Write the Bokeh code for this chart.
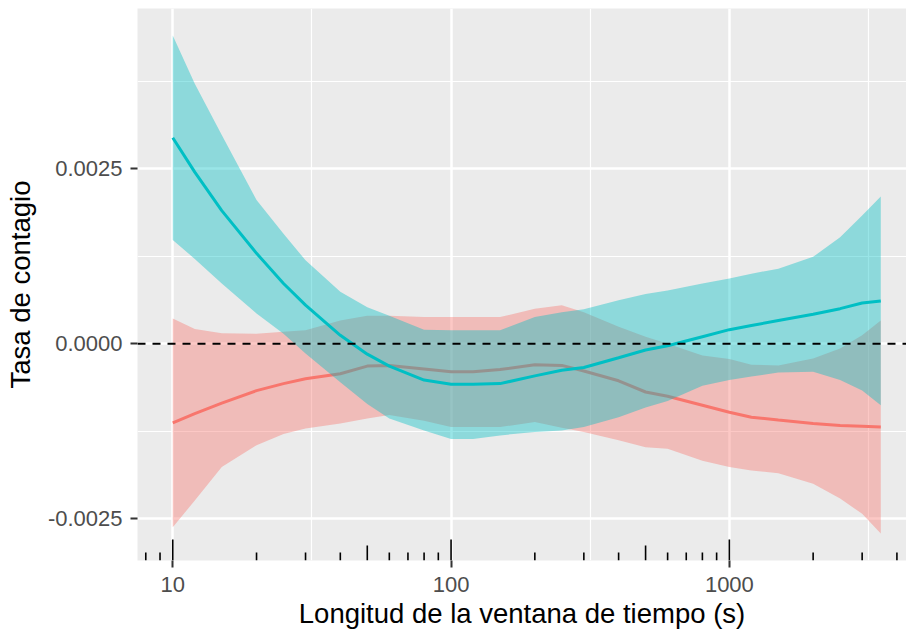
from bokeh.plotting import figure
from bokeh.models import (Range1d, FixedTicker, PrintfTickFormatter, Span,
                          ColumnDataSource)
from bokeh.embed import file_html
from bokeh.resources import INLINE

# Window length (s), log-spaced evaluation points of the smoothers
window_s = [10, 12, 15, 20, 25, 30, 40, 50, 60, 80, 100, 120, 150, 200, 250,
            300, 400, 500, 600, 800, 1000, 1200, 1500, 2000, 2500, 3000, 3500]

# Group 1 (red): fitted contagion rate and 95% band
red_fit = [-0.00113, -0.00100, -0.00085, -0.00067, -0.00057, -0.00050,
           -0.00043, -0.00032, -0.00031, -0.00036, -0.00040, -0.00040,
           -0.00037, -0.00030, -0.00031, -0.00039, -0.00053, -0.00069,
           -0.00075, -0.00088, -0.00098, -0.00105, -0.00109, -0.00114,
           -0.00117, -0.00118, -0.00119]
red_hi = [0.00036, 0.00021, 0.00015, 0.00014, 0.00017, 0.00019, 0.00033,
          0.00040, 0.00040, 0.00038, 0.00038, 0.00038, 0.00038, 0.00050,
          0.00055, 0.00045, 0.00024, 0.00010, 0.00000, -0.00017, -0.00022,
          -0.00030, -0.00031, -0.00021, -0.00007, 0.00012, 0.00033]
red_lo = [-0.00262, -0.00224, -0.00176, -0.00145, -0.00129, -0.00121,
          -0.00114, -0.00107, -0.00102, -0.00110, -0.00119, -0.00119,
          -0.00119, -0.00112, -0.00120, -0.00126, -0.00138, -0.00148,
          -0.00150, -0.00167, -0.00176, -0.00181, -0.00185, -0.00200,
          -0.00221, -0.00243, -0.00271]

# Group 2 (cyan): fitted contagion rate and 95% band
cyan_fit = [0.00294, 0.00245, 0.00190, 0.00129, 0.00086, 0.00055, 0.00012,
            -0.00015, -0.00032, -0.00052, -0.00058, -0.00058, -0.00057,
            -0.00046, -0.00038, -0.00034, -0.00020, -0.00009, -0.00003,
            0.00010, 0.00020, 0.00026, 0.00033, 0.00042, 0.00050, 0.00058,
            0.00061]
cyan_hi = [0.00440, 0.00371, 0.00298, 0.00205, 0.00157, 0.00119, 0.00074,
           0.00052, 0.00040, 0.00020, 0.00019, 0.00019, 0.00019, 0.00038,
           0.00045, 0.00049, 0.00062, 0.00071, 0.00076, 0.00086, 0.00093,
           0.00100, 0.00107, 0.00124, 0.00152, 0.00183, 0.00210]
cyan_lo = [0.00148, 0.00121, 0.00086, 0.00043, 0.00014, -0.00014, -0.00055,
           -0.00086, -0.00107, -0.00124, -0.00136, -0.00136, -0.00131,
           -0.00126, -0.00124, -0.00119, -0.00105, -0.00091, -0.00082,
           -0.00060, -0.00052, -0.00047, -0.00041, -0.00040, -0.00052,
           -0.00067, -0.00088]

# Axis ticks
x_ticks = [10, 100, 1000]
x_minor = [31.62, 316.2, 3162]
y_ticks = [-0.0025, 0.0, 0.0025]
y_minor = [-0.00125, 0.00125, 0.00375]
zero_line = 0.0

# Log-tick rug along the bottom of the panel
logtick_pos = [8, 9, 10, 20, 30, 40, 50, 60, 70, 80, 90, 100, 200, 300, 400,
               500, 600, 700, 800, 900, 1000, 2000, 3000, 4000]

RED = "#F8766D"
CYAN = "#00BFC4"
FONT = "Liberation Sans"

p = figure(width=906, height=634, x_axis_type="log",
           x_range=Range1d(7.47, 4330), y_range=Range1d(-0.003096, 0.004786),
           output_backend="svg", toolbar_location=None,
           min_border_left=137, min_border_right=0, min_border_top=8,
           min_border_bottom=74)
p.background_fill_color = "#EBEBEB"
p.border_fill_color = "white"
p.outline_line_color = None

p.extra_y_ranges = {"px": Range1d(0, 552)}

src = ColumnDataSource(dict(x=window_s, rf=red_fit, rh=red_hi, rl=red_lo,
                            cf=cyan_fit, ch=cyan_hi, cl=cyan_lo))

p.varea(x="x", y1="rl", y2="rh", source=src, fill_color=RED, fill_alpha=0.4)
p.line(x="x", y="rf", source=src, line_color=RED, line_width=3)
p.varea(x="x", y1="cl", y2="ch", source=src, fill_color=CYAN, fill_alpha=0.4)
p.line(x="x", y="cf", source=src, line_color=CYAN, line_width=3)

p.add_layout(Span(location=zero_line, dimension="width", line_color="black",
                  line_dash="8 7", line_width=2))

# rug tick lengths in pixels: long at decades, mid at 5x, short otherwise
def tick_len(v):
    lead = v / (10 ** (len(str(int(v))) - 1))
    if lead == 1:
        return 21
    if lead == 5:
        return 15
    return 8

p.segment(x0=logtick_pos, y0=[0] * len(logtick_pos), x1=logtick_pos,
          y1=[tick_len(v) for v in logtick_pos], y_range_name="px",
          line_color="black", line_width=1.6)

p.xaxis.ticker = FixedTicker(ticks=x_ticks, minor_ticks=x_minor)
p.yaxis.ticker = FixedTicker(ticks=y_ticks, minor_ticks=y_minor)
p.xaxis.formatter = PrintfTickFormatter(format="%d")
p.yaxis.formatter = PrintfTickFormatter(format="%.4f")

for ax in (p.xaxis[0], p.yaxis[0]):
    ax.axis_line_color = None
    ax.minor_tick_line_color = None
    ax.major_tick_line_color = "#333333"
    ax.major_tick_line_width = 2
    ax.major_tick_out = 7
    ax.major_tick_in = 0
    ax.major_label_text_font = FONT
    ax.major_label_text_font_size = "22px"
    ax.major_label_text_color = "#4D4D4D"
    ax.axis_label_text_font = FONT
    ax.axis_label_text_font_size = "27.5px"
    ax.axis_label_text_font_style = "normal"
    ax.axis_label_text_color = "black"

p.xaxis.axis_label = "Longitud de la ventana de tiempo (s)"
p.yaxis.axis_label = "Tasa de contagio"
p.xaxis.major_label_standoff = 9
p.xaxis.axis_label_standoff = 3
p.yaxis.major_label_standoff = 8
p.yaxis.axis_label_standoff = 9

for g in (p.xgrid[0], p.ygrid[0]):
    g.grid_line_color = "white"
    g.grid_line_width = 2.5
    g.minor_grid_line_color = "white"
    g.minor_grid_line_width = 1.2

open("out.html", "w").write(file_html(p, INLINE))
